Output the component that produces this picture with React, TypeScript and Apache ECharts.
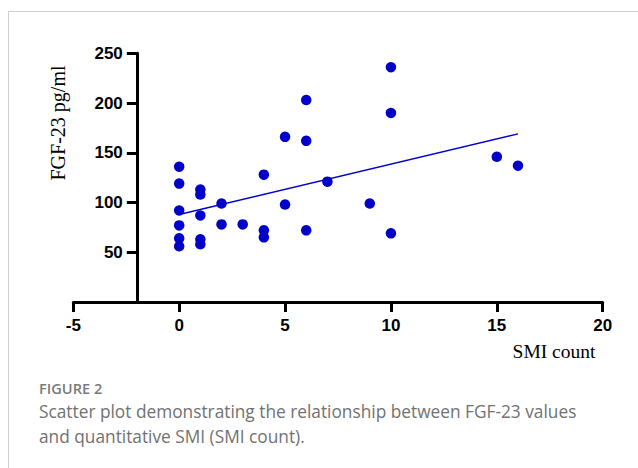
import React, { useEffect, useRef } from "react";
import * as echarts from "echarts";

// SMI count (x) and FGF-23 pg/ml (y) for each patient
const smiCount = [0, 0, 0, 0, 0, 0, 1, 1, 1, 1, 1, 2, 2, 3, 4, 4, 4, 5, 5, 6, 6, 6, 7, 9, 10, 10, 10, 15, 16];
const fgf23 = [136, 119, 92, 77, 64, 56, 113, 108, 87, 63, 58, 99, 78, 78, 128, 72, 65, 166, 98, 203, 162, 72, 121, 99, 236, 190, 69, 146, 137];

// fitted regression line end points
const fitX = [0, 16];
const fitY = [88, 169];

const xTicks = [-5, 0, 5, 10, 15, 20];
const yTicks = [50, 100, 150, 200, 250];

const yAxisTitle = "FGF-23 pg/ml";
const xAxisTitle = "SMI count";
const figureLabel = "FIGURE 2";
const captionLines = [
  "Scatter plot demonstrating the relationship between FGF-23 values",
  "and quantitative SMI (SMI count).",
];

export default function App() {
  const ref = useRef<HTMLDivElement>(null);

  useEffect(() => {
    if (!ref.current) return;
    const chart = echarts.init(ref.current, null, { renderer: "svg" });
    const points = smiCount.map((x, i) => [x, fgf23[i]]);
    const fit = fitX.map((x, i) => [x, fitY[i]]);
    const axisColor = "#000000";
    const tickFont = {
      color: "#000000",
      fontFamily: "Liberation Sans, Arial, sans-serif",
      fontWeight: "bold" as const,
      fontSize: 17,
    };
    chart.setOption({
      animation: false,
      backgroundColor: "#ffffff",
      grid: { left: 73.3, right: 35.3, top: 53.3, bottom: 166, containLabel: false },
      xAxis: {
        type: "value",
        min: xTicks[0],
        max: xTicks[xTicks.length - 1],
        interval: 5,
        axisLine: { onZero: false, lineStyle: { color: axisColor, width: 3 } },
        axisTick: { show: true, length: 10, lineStyle: { color: axisColor, width: 3 } },
        axisLabel: { ...tickFont, margin: 15 },
        splitLine: { show: false },
      },
      yAxis: {
        type: "value",
        min: 0,
        max: yTicks[yTicks.length - 1],
        interval: 50,
        position: "left",
        offset: -63.5,
        axisLine: { show: true, onZero: false, lineStyle: { color: axisColor, width: 3 } },
        axisTick: { show: true, length: 10, lineStyle: { color: axisColor, width: 3 } },
        axisLabel: {
          ...tickFont,
          margin: 14,
          formatter: (v: number) => (yTicks.includes(v) ? String(v) : ""),
        },
        splitLine: { show: false },
      },
      series: [
        {
          type: "line",
          data: fit,
          symbol: "none",
          lineStyle: { color: "#0000C8", width: 1.5 },
          z: 2,
        },
        {
          type: "scatter",
          data: points,
          symbol: "circle",
          symbolSize: 10.5,
          itemStyle: { color: "#0000C8", opacity: 1 },
          z: 3,
        },
      ],
      graphic: [
        { type: "line", shape: { x1: 8, y1: 11.5, x2: 640, y2: 11.5 }, style: { stroke: "#cfcfcf", lineWidth: 1 } },
        { type: "line", shape: { x1: 8.5, y1: 11, x2: 8.5, y2: 470 }, style: { stroke: "#cfcfcf", lineWidth: 1 } },
        {
          type: "text",
          x: 58,
          y: 123,
          rotation: Math.PI / 2,
          style: {
            text: yAxisTitle,
            fill: "#000000",
            font: "20px 'Liberation Serif', 'Times New Roman', serif",
            align: "center",
            verticalAlign: "middle",
          },
        },
        {
          type: "text",
          x: 554,
          y: 351,
          style: {
            text: xAxisTitle,
            fill: "#000000",
            font: "19.5px 'Liberation Serif', 'Times New Roman', serif",
            align: "center",
            verticalAlign: "middle",
          },
        },
        {
          type: "text",
          x: 39,
          y: 388,
          style: {
            text: figureLabel,
            fill: "#7a7a7a",
            font: "600 14.6px 'Open Sans', sans-serif",
            align: "left",
            verticalAlign: "middle",
          },
        },
        ...captionLines.map((t, i) => ({
          type: "text",
          x: 39,
          y: 411.5 + i * 24.5,
          style: {
            text: t,
            fill: "#717171",
            font: "17.3px 'Open Sans', sans-serif",
            align: "left",
            verticalAlign: "middle",
          },
        })),
      ],
    });
    return () => chart.dispose();
  }, []);

  return (
    <div
      ref={ref}
      style={{ position: "fixed", left: 0, top: 0, width: 638, height: 468, background: "#fff" }}
    />
  );
}
